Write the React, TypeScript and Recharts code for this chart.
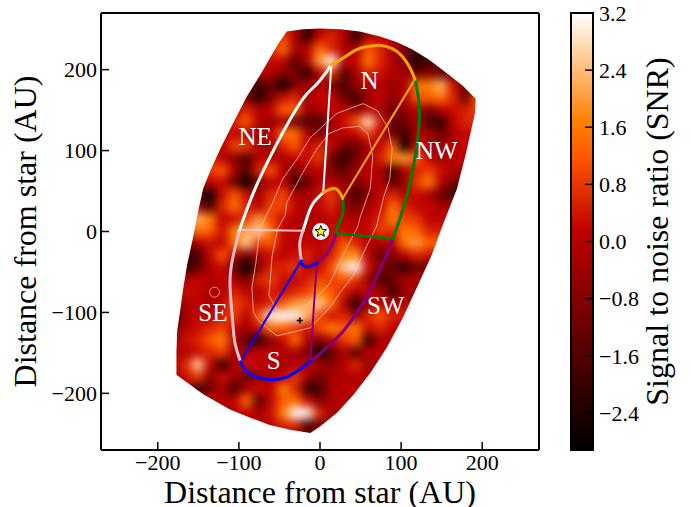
import React from 'react';
import { ScatterChart, Scatter, XAxis, YAxis, ReferenceArea, Curve } from 'recharts';

const SERIF = '"Liberation Serif", serif';
const xTicks = [-200, -100, 0, 100, 200];
const yTicks = [-200, -100, 0, 100, 200];
const barTicks = [-2.4, -1.6, -0.8, 0, 0.8, 1.6, 2.4, 3.2];
const SNR_MIN = -2.92;
const SNR_MAX = 3.2;

const heatColumns = [-180, -165, -150, -135, -120, -105, -90, -75, -60, -45, -30, -15, 0, 15, 30, 45, 60, 75, 90, 105, 120, 135, 150, 165, 180, 195];
const heatRowY = [255, 240, 225, 210, 195, 180, 165, 150, 135, 120, 105, 90, 75, 60, 45, 30, 15, 0, -15, -30, -45, -60, -75, -90, -105, -120, -135, -150, -165, -180, -195, -210, -225, -240, -255];
// first column that each row lists; columns outside a row repeat its end value (hidden by the wedge)
const heatRowStart = [8, 8, 8, 7, 6, 5, 4, 4, 3, 3, 2, 2, 1, 1, 0, 0, 0, 0, 0, 0, 0, 0, 0, 0, 0, 0, 0, 0, 0, 0, 1, 2, 3, 5, 8];
const heatRows: number[][] = [
  [0.2, 0.6, -0.2, -1.9, -0.5, 0.2, -0.1, -1.2, -0.5, -0.2],
  [0.3, 0.9, -0.2, -2.2, 0.2, 0.6, -0.2, -2.2, -0.2, 0.2, -0.1],
  [0.6, 1.5, -0.2, 0.1, 1.5, 0.6, -0.2, -0.2, 1.2, 0.6, -0.1, -1.2, -1.9],
  [0.2, 0.3, 0.2, -1.6, -0.1, 2.0, 3.2, 0.2, 0.2, 1.6, 0.6, -0.1, -0.9, -2.6, -1.6],
  [-0.1, 0.2, -0.1, -0.9, -0.9, -2.3, 0.1, 0.9, -1.6, -0.2, 0.6, 0.3, -0.1, -0.2, -1.2, -0.9, -1.2, -1.2, -0.5],
  [0.2, -0.5, -2.2, -1.2, -2.6, -0.8, -0.2, -0.1, -0.9, -1.8, -0.5, 0.1, -0.1, -0.5, -0.1, 1.6, 1.7, 2.3, 0.3, -1.3, 0.2],
  [0.3, 0.2, -1.2, -2.2, -0.9, 0.3, 0.6, -0.2, 0.2, 0.2, -1.2, -1.9, -0.5, 0.2, -0.5, -0.2, 1.2, 1.2, 1.6, 0.6, -1.3, 1.2],
  [0.2, -0.1, 0.6, -0.1, 0.2, 1.3, 1.3, -0.5, -0.1, 0.1, 0.2, -0.8, 0.2, -0.2, -1.2, -0.5, 0.1, -0.9, 0.1, 0.3, 0.5, 0.9],
  [-0.1, -0.1, 0.6, 1.2, -0.1, -0.5, -0.2, -1.2, -1.6, -1.6, -0.4, 0.3, 1.2, 2.9, 0.5, -1.3, -1.3, -0.2, -1.8, -2.2, 0.1, 0.6],
  [0.2, 0.1, 0.2, -0.1, -0.5, 0.1, 1.5, 1.5, -0.1, -0.9, -0.2, 0.1, 0.2, 0.9, 0.1, -1.1, -1.9, -0.2, -0.2, -1.2, -0.1, 0.2],
  [0.1, 0.3, -0.1, 1.0, 0.9, -0.1, -0.4, 0.6, 1.2, 0.1, 0.6, 0.2, -1.2, -1.3, -0.2, 0.2, 1.2, -3, 0.3, -0.1, -0.5, -0.1, 0.2],
  [0.2, 0.6, 0.1, -0.8, -1.6, 0.1, -0.1, -0.2, 0.2, 0.3, 0.9, -1.3, -2.2, -1.1, -0.1, 0.5, 1.7, 2.0, 1.2, 0.1, -0.4, 0.1],
  [0.2, -0.1, 0.9, 1.2, -0.2, -1.6, 0.6, 1.2, -0.1, -0.9, -0.1, 0.1, -0.9, -1.3, -0.4, 0.1, -0.2, -1.9, -0.2, 0.5, 0.9, 0.3, -0.2],
  [-0.2, -0.1, 0.1, 0.3, -1.2, -3, -0.8, 0.1, 0.1, -1.9, -1.3, 0.1, -0.1, -0.4, -0.9, -0.2, 0.1, -1.6, -0.5, 0.9, 1.7, 0.1, -1.1],
  [-0.1, 0.2, -1.9, -2.6, 0.3, 1.2, 0.3, -0.2, 0.6, 1.0, -0.2, -0.2, 0.3, 0.9, -0.5, -1.9, -0.8, 0.2, 0.6, -0.1, 0.3, -0.1, -1.3, -1.9],
  [0.3, 0.6, -0.2, -1.9, 0.6, 1.5, 0.5, -0.1, 1.0, 0.9, 0.2, -0.2, 0.2, 0.6, -0.4, -1.1, -0.1, 0.2, 1.5, 0.6, 0.1, 0.2, -0.2],
  [0.6, 1.2, 2.3, 1.7, 0.1, 0.3, 0.8, 2.0, 0.9, 0.3, -0.1, -0.1, -0.1, 0.2, 0.1, -0.1, 0.1, 0.6, 1.7, 0.9, 0.8, 0.1],
  [0.2, 0.6, 1.5, 1.3, 0.3, 1.7, 2.2, 2.6, 1.6, 0.1, 0.1, -0.1, -0.2, 0.3, 0.2, 0.1, 0.2, 0.9, 0.6, 1.6, 1.3, 0.5],
  [-0.2, -0.9, -0.2, 0.3, 0.1, 1.5, 2.6, 0.9, 1.2, 0.2, -0.1, 0.2, 0.1, 0.3, 1.2, 0.6, -0.2, -0.1, 0.1, 1.7, 2.0, 1.3],
  [-0.4, -1.9, -1.9, 0.2, 1.2, -0.1, -1.2, -0.2, 0.3, 0.1, 0.3, 0.6, -0.1, 0.5, 1.7, 1.9, 0.1, -1.2, -0.8, 0.1, 0.6, 0.3],
  [-0.8, -2.2, -1.3, -0.1, 0.3, -1.2, -3, -0.8, 0.5, 0.6, 0.8, 0.1, 0.2, 1.2, 2.6, 3.2, 0.3, -0.9, -1.3, -2.3, -1.2],
  [-0.2, -0.1, 0.2, -0.1, 0.1, -0.1, -1.1, 0.6, 0.9, 0.3, 0.1, 0.5, 1.0, 0.8, 1.2, 0.8, -0.5, -1.8, -1.2, -0.1],
  [-0.1, 0.3, 0.2, -0.2, -0.1, 0.5, 0.2, -0.1, 0.5, 0.2, 0.6, 0.9, 1.7, 1.2, 0.5, -0.2, 0.2, -0.2, -1.9, -0.5],
  [-1.2, -0.2, 0.1, -0.2, 0.2, 1.0, 0.5, 0.3, 0.6, 1.3, 2.0, 2.2, 2.6, 1.5, -0.1, -2.3, -0.5, 0.2, -0.1],
  [-2.2, -0.2, 0.2, -0.1, 0.5, 0.9, -0.1, 1.2, 3.1, 3.2, 3.1, 2.3, 0.9, 0.3, 0.6, -0.5, 0.6, 1.2, 0.5],
  [-0.9, -0.1, 0.3, 0.6, 0.9, 0.1, -0.2, 0.3, 1.5, 1.3, 0.8, 0.3, 1.0, 1.7, 1.2, 1.6, 0.3, 0.6, 0.1],
  [-0.2, 0.3, 0.6, 1.2, 1.7, -0.1, -1.6, -2.2, -0.8, 0.2, 1.5, -0.1, -0.8, 0.1, 0.8, 1.3, -2.3, -0.2],
  [0.1, -0.1, 0.3, 0.6, 0.9, -0.2, -0.2, 0.1, 0.2, -0.1, -0.2, -0.9, -3, -1.3, -0.2, -1.6, 0.1],
  [-0.2, 0.6, 2.6, 0.2, -2.2, -0.1, 0.3, 0.2, -0.1, -0.2, -0.1, 0.1, -0.2, -0.8, 0.1, 0.6, -0.5],
  [-0.2, 0.3, 0.9, -0.8, 0.3, -0.2, -1.3, -0.5, -0.1, 0.1, 0.8, -0.2, -1.1, -0.2, -0.1],
  [-0.1, -2.2, -1.1, -0.1, -1.9, -0.1, 0.3, 0.1, 1.7, 0.6, -2.2, -1.9, -0.2, 0.1],
  [-0.2, 0.2, -0.1, 0.2, 1.5, -1.6, 0.2, 1.2, 1.5, 0.3, -0.8, -0.1],
  [-0.2, -0.1, -0.1, 0.2, -0.2, 0.3, 1.7, 3.2, 3.1, 0.6, -0.2],
  [-0.2, 0.1, -0.1, 0.1, 0.6, 0.6, -1.9, -1.1],
  [-0.5, -0.5, -0.5, -1.2, -0.5],
];

type P = { x: number; y: number };
const toPts = (a: number[][]): P[] => a.map(([x, y]) => ({ x, y }));

const wedgeOutline = toPts([[-41, 247], [-52, 231], [-71, 198], [-90, 167], [-107, 134], [-123, 102], [-134, 78], [-144, 53], [-150, 26], [-156, -5], [-164, -42], [-169, -73], [-172, -95], [-176, -122], [-177, -149], [-177, -177], [-144, -201], [-111, -220], [-86, -230], [-62, -239], [-37, -245], [-12, -249], [0, -241], [21, -224], [41, -202], [62, -175], [82, -144], [102, -107], [119, -70], [137, -31], [151, 7], [169, 53], [180, 97], [191, 146], [192, 164], [176, 180], [156, 196], [135, 212], [114, 225], [95, 234], [74, 241], [49, 247], [25, 250], [0, 251], [-21, 250]]);

const contourOuter = toPts([[11, 137], [-12, 116], [-28, 90], [-46, 65], [-58, 36], [-74, 4], [-79, -38], [-84, -70], [-82, -100], [-74, -112], [-53, -129], [-12, -119], [12, -94], [25, -75], [41, -54], [58, -17], [70, 7], [78, 41], [86, 65], [89, 102], [84, 128], [71, 149], [53, 158], [21, 146], [11, 137]]);
const contourInner = toPts([[11, 121], [-4, 102], [-21, 73], [-41, 36], [-43, 20], [-52, 4], [-59, -30], [-63, -79], [-53, -97], [-33, -101], [-4, -82], [12, -64], [28, -30], [47, 7], [49, 16], [62, 53], [65, 94], [59, 121], [49, 130], [28, 128], [11, 121]]);

const neOuter = toPts([[14, 206], [-4, 182], [-21, 164], [-46, 122], [-65, 85], [-82, 48], [-96, 11], [-100, -1]]);
const seOuter = toPts([[-100, -1], [-107, -30], [-111, -63], [-108, -107], [-105, -137], [-98, -161]]);
const sOuter = toPts([[-98, -161], [-89, -174], [-74, -181], [-62, -183], [-41, -180], [-12, -161]]);
const swOuter = toPts([[90, -9], [80, -33], [65, -66], [49, -95], [28, -124], [12, -140], [-12, -161]]);
const nwOuter = toPts([[117, 188], [122, 160], [122, 130], [119, 102], [114, 75], [108, 48], [100, 20], [90, -9]]);
const nOuter = toPts([[14, 206], [28, 214], [46, 225], [62, 229], [74, 230], [89, 226], [101, 217], [111, 202], [117, 188]]);
const neInner = toPts([[4, 48], [-9, 34], [-16, 17], [-21, 1]]);
const seInner = toPts([[-21, 1], [-25, -15], [-23, -36]]);
const sInner = toPts([[-23, -36], [-21, -42], [-12, -43], [-4, -39]]);
const swInner = toPts([[-4, -39], [9, -27], [16, -14], [20, -2]]);
const nwInner = toPts([[20, -2], [22, 7], [28, 22], [28, 41]]);
const nInner = toPts([[28, 41], [21, 52], [12, 52], [4, 48]]);
const neSpoke = toPts([[14, 206], [4, 48]]);
const nSpoke = toPts([[117, 188], [28, 41]]);
const nwSpoke = toPts([[20, -2], [90, -9]]);
const swSpoke = toPts([[-4, -39], [-12, -161]]);
const sSpoke = toPts([[-23, -36], [-98, -161]]);
const seSpoke = toPts([[-21, 1], [-96, 2]]);

const regionLabels = [
  { x: 61, y: 187, name: 'N' },
  { x: -80, y: 118, name: 'NE' },
  { x: 144, y: 100, name: 'NW' },
  { x: -132, y: -100, name: 'SE' },
  { x: -57, y: -160, name: 'S' },
  { x: 81, y: -92, name: 'SW' },
];
const faintRing = [{ x: -130, y: -75 }];
const peakMark = [{ x: -25, y: -110 }];
const starMark = [{ x: 1, y: 0 }];
const barAnchor = [{ x: 0.5, y: 0 }];

const heatCells = heatRows.flatMap((row, j) =>
  heatColumns.map((x, i) => {
    const k = Math.min(Math.max(i - heatRowStart[j], 0), row.length - 1);
    return { x, y: heatRowY[j], snr: row[k] };
  }),
);

const gistHeat = (v: number) => {
  const t = Math.min(1, Math.max(0, (v - SNR_MIN) / (SNR_MAX - SNR_MIN)));
  const r = Math.min(1, 1.5 * t);
  const g = Math.max(0, 2 * t - 1);
  const b = Math.max(0, 4 * t - 3);
  return `rgb(${Math.round(r * 255)},${Math.round(g * 255)},${Math.round(b * 255)})`;
};

const fmt = (v: number) => String(v).replace('-', '\u2212');
const fmt1 = (v: number) => v.toFixed(1).replace('-', '\u2212');
const None = () => <g />;

const HeatCell = (p: any) => (
  <rect x={p.cx - 6.6} y={p.cy - 6.6} width={13.2} height={13.2} fill={gistHeat(p.payload.snr)} />
);
const RegionText = (p: any) => (
  <text x={p.cx} y={p.cy} textAnchor="middle" dominantBaseline="central" fill="#fff" fontFamily={SERIF} fontSize={25}>
    {p.payload.name}
  </text>
);
const Ring = (p: any) => <circle cx={p.cx} cy={p.cy} r={5} fill="none" stroke="#e8b8a8" strokeWidth={0.8} />;
const Plus = (p: any) => (
  <path d={`M${p.cx - 3},${p.cy}H${p.cx + 3}M${p.cx},${p.cy - 3}V${p.cy + 3}`} stroke="#000" strokeWidth={1.6} fill="none" />
);
const StarMark = (p: any) => {
  const pts: string[] = [];
  for (let i = 0; i < 10; i++) {
    const r = i % 2 ? 2.6 : 6;
    const a = (Math.PI / 5) * i - Math.PI / 2;
    pts.push(`${p.cx + r * Math.cos(a)},${p.cy + r * Math.sin(a)}`);
  }
  return (
    <g>
      <circle cx={p.cx} cy={p.cy} r={8.5} fill="#fff" />
      <polygon points={pts.join(' ')} fill="#ffff00" stroke="#000" strokeWidth={1} />
    </g>
  );
};
const WedgeClip = (p: any) => (
  <defs>
    <clipPath id="wedgeClip">
      <polygon points={p.points.map((q: any) => `${q.x},${q.y}`).join(' ')} />
    </clipPath>
  </defs>
);

const seg = (key: string, data: P[], stroke: string, strokeWidth: number, smooth = false, opacity = 1) => (
  <Scatter
    key={key}
    data={data}
    shape={None}
    line={((p: any) => (
      <Curve
        points={p.points}
        type={smooth ? 'natural' : 'linear'}
        fill="none"
        stroke={stroke}
        strokeWidth={strokeWidth}
        strokeOpacity={opacity}
        strokeLinecap="round"
        strokeLinejoin="round"
      />
    )) as any}
    isAnimationActive={false}
  />
);

const axisLine = { stroke: '#000', strokeWidth: 2 };
const tickLine = { stroke: '#000', strokeWidth: 1.5 };
const tickFont = { fontFamily: SERIF, fontSize: 22, fill: '#000' };
const labelFont = { fontFamily: SERIF, fontSize: 32, fill: '#000' };

export default function App() {
  return (
    <div style={{ position: 'absolute', left: 0, top: 0, width: 691, height: 507, background: '#fff' }}>
      <style>{`.heat-layer{filter:url(#heatBlur);clip-path:url(#wedgeClip);}`}</style>
      <div style={{ position: 'absolute', left: 0, top: 0 }}>
        <ScatterChart width={691} height={507} margin={{ top: 12, right: 151, bottom: 0, left: 0 }}>
          <defs>
            <filter id="heatBlur" x="-5%" y="-5%" width="110%" height="110%" colorInterpolationFilters="sRGB">
              <feGaussianBlur stdDeviation="4.8" />
            </filter>
          </defs>
          <XAxis
            xAxisId={0}
            type="number"
            dataKey="x"
            domain={[-270, 270]}
            ticks={xTicks}
            tickFormatter={fmt}
            height={57}
            axisLine={axisLine}
            tickLine={tickLine}
            tickSize={-8}
            tickMargin={12}
            tick={tickFont}
            interval={0}
            label={{ value: 'Distance from star (AU)', position: 'insideBottom', offset: 4, style: labelFont }}
          />
          <XAxis
            xAxisId="top"
            orientation="top"
            type="number"
            dataKey="x"
            domain={[-270, 270]}
            ticks={xTicks}
            height={1}
            axisLine={axisLine}
            tickLine={tickLine}
            tickSize={-8}
            tick={false}
            interval={0}
          />
          <YAxis
            yAxisId={0}
            type="number"
            dataKey="y"
            domain={[-270, 270]}
            ticks={yTicks}
            tickFormatter={fmt}
            width={101}
            axisLine={axisLine}
            tickLine={tickLine}
            tickSize={-8}
            tickMargin={12}
            tick={tickFont}
            interval={0}
            label={{ value: 'Distance from star (AU)', angle: -90, position: 'insideLeft', offset: 25, style: { ...labelFont, textAnchor: 'middle' } }}
          />
          <YAxis
            yAxisId="right"
            orientation="right"
            type="number"
            dataKey="y"
            domain={[-270, 270]}
            ticks={yTicks}
            width={1}
            axisLine={axisLine}
            tickLine={tickLine}
            tickSize={-8}
            tick={false}
            interval={0}
          />
          <Scatter data={wedgeOutline} shape={None} line={WedgeClip as any} isAnimationActive={false} />
          <Scatter className="heat-layer" data={heatCells} shape={HeatCell} isAnimationActive={false} />
          {seg('c1', contourOuter, '#f2c9c4', 1, false, 0.75)}
          {seg('c2', contourInner, '#f2c9c4', 1, false, 0.75)}
          <Scatter data={faintRing} shape={Ring} isAnimationActive={false} />
          {seg('s1', neSpoke, '#ffffff', 2)}
          {seg('s2', nSpoke, '#ffa500', 2)}
          {seg('s3', nwSpoke, '#008000', 2.5)}
          {seg('s4', swSpoke, '#800080', 2)}
          {seg('s5', sSpoke, '#0000ff', 2)}
          {seg('s6', seSpoke, '#ffc0cb', 2)}
          {seg('o1', neOuter, '#ffffff', 3, true)}
          {seg('o2', seOuter, '#ffc0cb', 3, true)}
          {seg('o3', swOuter, '#800080', 3, true)}
          {seg('o4', nwOuter, '#008000', 3, true)}
          {seg('o5', nOuter, '#ffa500', 3, true)}
          {seg('o6', sOuter, '#0000ff', 3, true)}
          {seg('i1', neInner, '#ffffff', 3, true)}
          {seg('i2', seInner, '#ffc0cb', 3, true)}
          {seg('i3', swInner, '#800080', 3, true)}
          {seg('i4', nwInner, '#008000', 3, true)}
          {seg('i5', nInner, '#ffa500', 3, true)}
          {seg('i6', sInner, '#0000ff', 3, true)}
          <Scatter data={regionLabels} shape={RegionText} isAnimationActive={false} />
          <Scatter data={peakMark} shape={Plus} isAnimationActive={false} />
          <Scatter data={starMark} shape={StarMark} isAnimationActive={false} />
        </ScatterChart>
      </div>
      <div style={{ position: 'absolute', left: 0, top: 0 }}>
        <ScatterChart width={691} height={507} margin={{ top: 13, right: 0, bottom: 57, left: 571 }}>
          <defs>
            <linearGradient id="gistHeat" x1="0" y1="1" x2="0" y2="0">
              <stop offset="0" stopColor="#000000" />
              <stop offset="0.5" stopColor="#bf0000" />
              <stop offset="0.6667" stopColor="#ff5500" />
              <stop offset="0.75" stopColor="#ff8000" />
              <stop offset="1" stopColor="#ffffff" />
            </linearGradient>
          </defs>
          <XAxis type="number" dataKey="x" domain={[0, 1]} hide />
          <YAxis
            orientation="right"
            type="number"
            dataKey="y"
            domain={[SNR_MIN, SNR_MAX]}
            ticks={barTicks}
            tickFormatter={fmt1}
            width={98}
            axisLine={false}
            tickLine={tickLine}
            tickSize={-8}
            tickMargin={14}
            tick={tickFont}
            interval={0}
            label={{ value: 'Signal to noise ratio (SNR)', angle: -90, position: 'insideRight', offset: 34, style: { ...labelFont, textAnchor: 'middle' } }}
          />
          <Scatter data={barAnchor} shape={None} isAnimationActive={false} />
          <ReferenceArea y1={SNR_MIN} y2={SNR_MAX} fill="url(#gistHeat)" fillOpacity={1} stroke="#000" strokeWidth={2} />
        </ScatterChart>
      </div>
    </div>
  );
}
